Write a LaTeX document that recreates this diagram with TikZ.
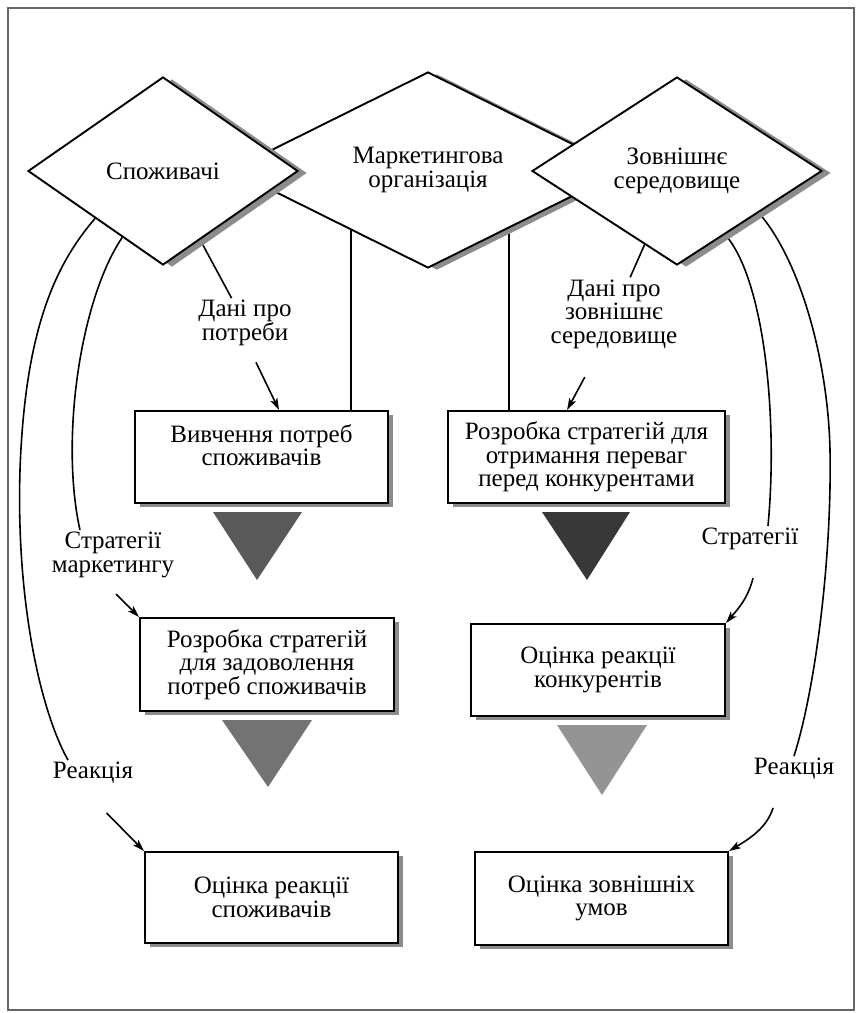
\documentclass[tikz,border=0pt]{standalone}
\usepackage{fontspec}
\setmainfont{Liberation Serif}
\usetikzlibrary{shapes.geometric,arrows.meta,shadows,calc,backgrounds}
\begin{document}
\begin{tikzpicture}[x=1pt,y=-1pt,
  every node/.style={font=\fontsize{25}{23.5}\selectfont},
  dia/.style={draw, line width=1.9pt, fill=white, shape=diamond, inner sep=0pt, align=center,
    drop shadow={shadow xshift=9pt, shadow yshift=-2pt, fill=black!45, opacity=1}},
  box/.style={draw, line width=1.9pt, fill=white, rectangle, inner sep=0pt, align=center,
    drop shadow={shadow xshift=5pt, shadow yshift=-4pt, fill=black!45, opacity=1}},
  lbl/.style={align=center, inner sep=2pt},
  con/.style={line width=1.6pt},
  arr/.style={con, -{Stealth[length=12pt,width=7.5pt,inset=3pt]}}
]
\useasboundingbox (0,0) rectangle (857,1013);
\draw[black!60, line width=2.2pt] (8,8) rectangle (854,1010);

% diamonds
\node[dia, minimum width=394pt, minimum height=188pt] (mo) at (428,170) {Маркетингова\\організація};
\node[dia, minimum width=270pt, minimum height=188pt] (sp) at (163,171) {Споживачі};
\node[dia, minimum width=290pt, minimum height=188pt] (zs) at (677,171) {Зовнішнє\\середовище};

% boxes
\node[box, minimum width=253pt, minimum height=92pt] (b1) at (261.5,457) {};
\node[lbl] (b1t) at (261.5,445) {Вивчення потреб\\споживачів};
\node[box, minimum width=277pt, minimum height=92pt] (b2) at (586.5,457) {Розробка стратегій для\\отримання переваг\\перед конкурентами};
\node[box, minimum width=254pt, minimum height=93pt] (b3) at (267,664.5) {Розробка стратегій\\для задоволення\\потреб споживачів};
\node[box, minimum width=254pt, minimum height=92pt] (b4) at (598,670) {Оцінка реакції\\конкурентів};
\node[box, minimum width=253pt, minimum height=91pt] (b5) at (271.5,897.5) {Оцінка реакції\\споживачів};
\node[box, minimum width=253pt, minimum height=93pt] (b6) at (601.5,898.5) {Оцінка зовнішніх\\умов};

% triangles
\fill[black!65] (213,512) -- (302,512) -- (257,580) -- cycle;
\fill[black!78] (542,512) -- (630,512) -- (587,580) -- cycle;
\fill[black!55] (222,720) -- (312,720) -- (268,787) -- cycle;
\fill[black!42] (557,725) -- (647,725) -- (602,795) -- cycle;

% labels
\node[lbl] (l1) at (245,323) {Дані про\\потреби};
\node[lbl] (l2) at (614,314) {Дані про\\зовнішнє\\середовище};
\node[lbl] (l3) at (113,555) {Стратегії\\маркетингу};
\node[lbl] (l4) at (93,773) {Реакція};
\node[lbl] (l5) at (750,539) {Стратегії};
\node[lbl] (l6) at (794,769) {Реакція};

\coordinate (v1) at ($(b1.north east)+(-38,0)$);
\coordinate (v2) at ($(b2.north west)+(62,0)$);

\begin{pgfonlayer}{background}
\draw[con] (v1) -- (v1 |- mo.center);
\draw[con] (v2) -- (v2 |- mo.center);
\draw[con] (sp) -- (l1);
\draw[con] (zs) -- (l2);
\draw[con] (sp.south west) .. controls (55,265) and (25,330) .. (20,470)
   .. controls (16,600) and (40,710) .. ([xshift=-25pt]l4.north);
\draw[con] ($(sp.west)!0.7!(sp.south)$) .. controls (80,300) and (60,440) .. ([xshift=-33pt]l3.north);
\draw[con] ($(zs.south)!0.33!(zs.east)$) .. controls (765,280) and (778,420) .. ([xshift=18pt]l5.north);
\draw[con] ($(zs.south)!0.56!(zs.east)$) .. controls (800,260) and (828,360) .. (830,450)
   .. controls (832,560) and (815,690) .. (l6.north);
\end{pgfonlayer}

% arrows
\draw[arr, shorten <=16pt] ([xshift=4pt]l1.south) -- ($(b1.north west)+(145,0)$);
\draw[arr, shorten <=30pt] ([xshift=-15pt]l2.south) -- ($(b2.north west)+(120,0)$);
\draw[arr, shorten <=20pt] ([xshift=-11pt]l3.south) -- (b3.north west);
\draw[arr, shorten <=38pt] ([xshift=-13pt]l4.south) -- (b5.north west);
\draw[arr] ($(l5.south)+(3,26)$) .. controls +(-5,20) and +(12,-14) .. (b4.north east);
\draw[arr] ($(l6.south)+(-21,26)$) .. controls +(-6,20) and +(20,-12) .. (b6.north east);
\end{tikzpicture}
\end{document}
